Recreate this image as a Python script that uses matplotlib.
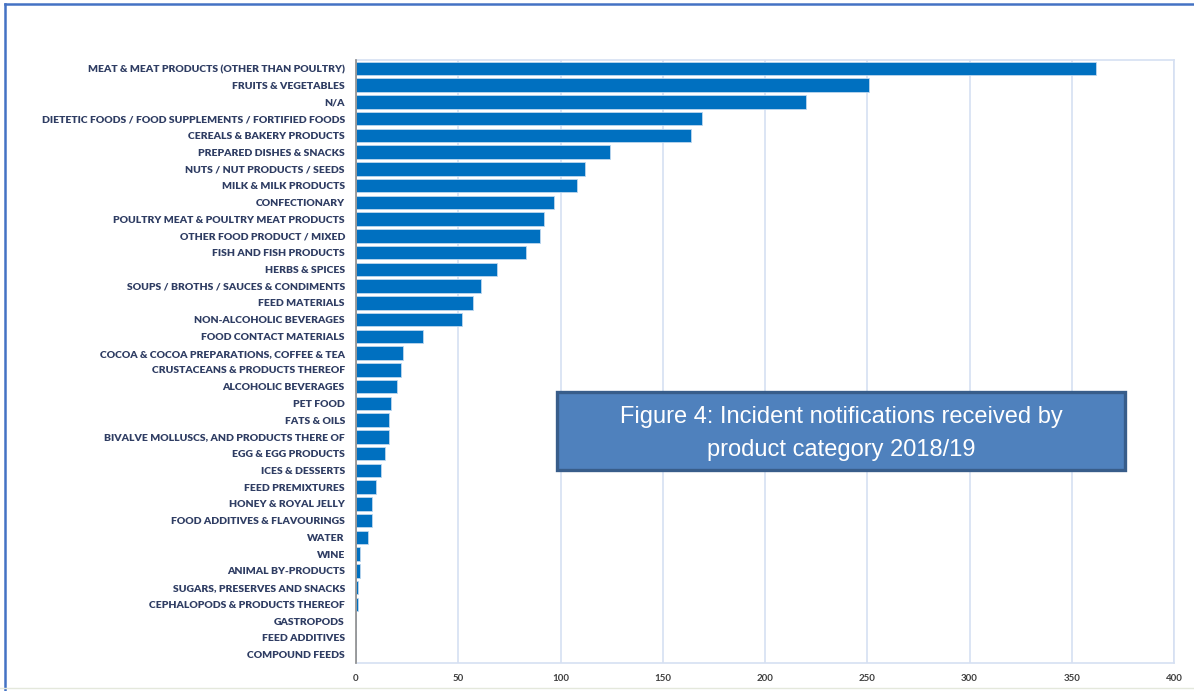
import matplotlib
matplotlib.use('Agg')
import matplotlib.pyplot as plt
from matplotlib.patches import Rectangle
from matplotlib.lines import Line2D

categories = [
    'MEAT & MEAT PRODUCTS (OTHER THAN POULTRY)', 'FRUITS & VEGETABLES', 'N/A',
    'DIETETIC FOODS / FOOD SUPPLEMENTS / FORTIFIED FOODS', 'CEREALS & BAKERY PRODUCTS',
    'PREPARED DISHES & SNACKS', 'NUTS / NUT PRODUCTS / SEEDS', 'MILK & MILK PRODUCTS',
    'CONFECTIONARY', 'POULTRY MEAT & POULTRY MEAT PRODUCTS', 'OTHER FOOD PRODUCT / MIXED',
    'FISH AND FISH PRODUCTS', 'HERBS & SPICES', 'SOUPS / BROTHS / SAUCES & CONDIMENTS',
    'FEED MATERIALS', 'NON-ALCOHOLIC BEVERAGES', 'FOOD CONTACT MATERIALS',
    'COCOA & COCOA PREPARATIONS, COFFEE & TEA', 'CRUSTACEANS & PRODUCTS THEREOF',
    'ALCOHOLIC BEVERAGES', 'PET FOOD', 'FATS & OILS', 'BIVALVE MOLLUSCS, AND PRODUCTS THERE OF',
    'EGG & EGG PRODUCTS', 'ICES & DESSERTS', 'FEED PREMIXTURES', 'HONEY & ROYAL JELLY',
    'FOOD ADDITIVES & FLAVOURINGS', 'WATER', 'WINE', 'ANIMAL BY-PRODUCTS',
    'SUGARS, PRESERVES AND SNACKS', 'CEPHALOPODS & PRODUCTS THEREOF', 'GASTROPODS',
    'FEED ADDITIVES', 'COMPOUND FEEDS',
]
counts = [362, 251, 220, 169, 164, 124, 112, 108, 97, 92, 90, 83, 69, 61, 57, 52, 33,
          23, 22, 20, 17, 16, 16, 14, 12, 10, 8, 8, 6, 2, 2, 1, 1, 0, 0, 0]
x_ticks = [0, 50, 100, 150, 200, 250, 300, 350, 400]
title_lines = ['Figure 4: Incident notifications received by', 'product category 2018/19']

W, H = 1194, 691
fig = plt.figure(figsize=(W / 100, H / 100), dpi=100)
fig.patch.set_facecolor('white')

ax = fig.add_axes([356 / W, 1 - 663 / H, (1174 - 356) / W, (663 - 60) / H])
ypos = list(range(len(categories)))
ax.barh(ypos, counts, height=0.82, color='#0070C0', edgecolor='#BDD7EE', linewidth=0.6, zorder=3)

ax.set_ylim(len(categories) - 0.5, -0.5)
ax.set_xlim(0, 400)
ax.set_yticks(ypos)
ax.set_yticklabels(categories, fontfamily='Lato', fontweight='heavy', fontsize=7.5, color='#2F3D63')
ax.set_xticks(x_ticks)
ax.set_xticklabels([str(t) for t in x_ticks], fontfamily='Lato', fontweight='bold', fontsize=7, color='#404040')
ax.tick_params(axis='y', length=0, pad=8)
ax.tick_params(axis='x', length=0, pad=8)
ax.grid(axis='x', color='#D6E0F2', linewidth=1.2, zorder=0)
for s in ['top', 'right', 'bottom']:
    ax.spines[s].set_color('#D6E0F2')
    ax.spines[s].set_linewidth(1.2)
ax.spines['left'].set_color('#8C8C8C')
ax.spines['left'].set_linewidth(1.2)
ax.spines['left'].set_zorder(4)

# figure frame lines
fig.add_artist(Line2D([5 / W, 1], [1 - 4 / H, 1 - 4 / H], color='#4472C4', linewidth=1.8))
fig.add_artist(Line2D([5 / W, 5 / W], [0, 1 - 4 / H], color='#4472C4', linewidth=1.8))
fig.add_artist(Line2D([0, 1], [1 - 688 / H, 1 - 688 / H], color='#E4E8DC', linewidth=1.0))

# caption box
box = Rectangle((557 / W, 1 - 470 / H), (1125 - 557) / W, (470 - 392) / H,
                transform=fig.transFigure, facecolor='#4F81BD', edgecolor='#385D8A',
                linewidth=2.4, zorder=5)
fig.add_artist(box)
cx = 841 / W
for i, line in enumerate(title_lines):
    t = fig.text(cx, 1 - (417 + 33 * i) / H, line, ha='center', va='center',
                 fontfamily='Liberation Sans', fontsize=17, color='white', zorder=6)
    t.set_clip_path(box)

fig.savefig('out.png', dpi=100)
